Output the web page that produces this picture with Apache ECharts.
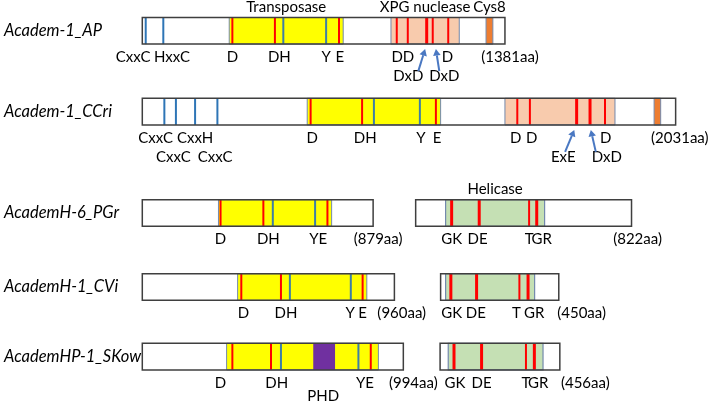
<!DOCTYPE html>
<html><head><meta charset="utf-8">
<script src="https://cdn.jsdelivr.net/npm/echarts@6/dist/echarts.min.js"></script>
<style>html,body{margin:0;padding:0;background:#fff}#c{width:709px;height:401px}</style>
</head><body><div id="c"></div>
<script>
// ---- data (amino-acid positions) ----
const rowNames = ['Academ-1_AP','Academ-1_CCri','AcademH-6_PGr','AcademH-1_CVi','AcademHP-1_SKow'];
const proteinLength = [1381, 2031, 879, 960, 994];
const transposase = [[331,765],[628,1136],[290,721],[363,855],[321,899]];
const xpgNuclease = [[947,1207],[1381,1800],null,null,null];
const cys8 = [[1309,1335],[1949,1974],null,null,null];
const phd = [null,null,null,null,[651,734]];
const zincMotifs = [[13,80],[84,128,201,286],[],[],[]];
const tealMotifs = [[537,700],[882,1057],[497,658],[562,794],[528,823]];
const redMotifs = [[343,505,749,969,1011,1083,1106,1165],[641,837,1118,1428,1476,1654,1705,1762],[298,461,705],[377,528,839],[343,490,870]];
const thickRed = [[1083],[1654,1705],[],[],[]];
// [text, position, line]
const motifLabels = [
  [['CxxC',-35,1],['HxxC',113,1],['D',343,1],['DH',522,1],['Y',700,1],['E',752,1],['D',971,1],['D',1014,1],['D',1162,1],['(1381aa)',1400,1],['DxD',1013,2],['DxD',1150,2]],
  [['CxxC',51,1],['CxxH',201,1],['D',647,1],['DH',849,1],['Y',1061,1],['E',1123,1],['D',1422,1],['D',1483,1],['D',1765,1],['(2031aa)',2047,1],['CxxC',118,2],['CxxC',277,2],['ExE',1603,2],['DxD',1769,2]],
  [['D',298,1],['DH',480,1],['YE',670,1],['(879aa)',898,1]],
  [['D',385,1],['DH',547,1],['Y',792,1],['E',839,1],['(960aa)',988,1]],
  [['D',298,1],['DH',512,1],['YE',848,1],['(994aa)',1032,1],['PHD',689,1.67]]
];
// [tip, tail]
const arrows = [[[1077,1051],[1118,1131]],[[1645,1610],[1708,1727]],[],[],[]];
const helicaseLength = [null,null,822,450,456];
const helicaseDomain = [null,null,[114,491],[19,358],[31,392]];
const helicaseRed = [null,null,[137,242,432,461],[39,137,300,333],[53,158,327,359]];
const helicaseThin = [null,null,[432],[300],[327]];
const helicaseLabels = [null,null,
  [['GK',137],['DE',236],['T',432],['GR',480],['(822aa)',845]],
  [['GK',42],['DE',134],['T',289],['GR',356],['(450aa)',537]],
  [['GK',57],['DE',158],['T',327],['GR',374],['(456aa)',553]]
];
const domainTitles = [['Transposase',0,'transposase'],['XPG nuclease',0,'xpg'],['Cys8',0,'cys8'],['Helicase',2,'helicase']];

// ---- layout ----
const helicaseStart = [null,null,1041,1136,1134];
const rowTop = [17.5, 98.3, 199.7, 273.7, 343.3];
const boxH = 26.6;
const axisMax = 2100;
const gridLeft = 142.3;
const pxPerAa = 0.2626;
const gridRight = 709 - gridLeft - axisMax * pxPerAa;

const C = {
  box:'#3f3f3f', domBorder:'#7389ad', yellow:'#ffff00', xpg:'#f8cbad', green:'#c5e0b4',
  cys:'#ed7d31', phd:'#7030a0', red:'#ff0000', blue:'#2e75b6', teal:'#3d7fa6', arrow:'#4a78c2'
};
const FONT = '15px Lato';

function rowSeries(i) {
  return {
    type:'custom', xAxisIndex:i, yAxisIndex:i, data:[[0,0]], clip:false, silent:true,
    renderItem(params, api) {
      const ch = [];
      const h = api.size([0,1])[1];
      const cy = api.coord([0,0])[1];
      const top = cy - h/2, bottom = cy + h/2;
      const X = v => api.coord([v,0])[0];
      const rect = (a,b,fill,stroke,lw) => ch.push({type:'rect', shape:{x:X(a), y:top, width:X(b)-X(a), height:h},
        style:{fill:fill, stroke:stroke||null, lineWidth:lw||0}});
      const vline = (p,color,w) => ch.push({type:'line', shape:{x1:X(p), y1:top, x2:X(p), y2:bottom},
        style:{stroke:color, lineWidth:w}});
      const text = (t,p,y) => ch.push({type:'text', x:X(p), y:y,
        style:{text:t, fill:'#000', font:FONT, align:'center', verticalAlign:'middle'}});
      const lineY = l => bottom + 13 + (l-1)*19.5;
      const domains = {};
      // main protein
      rect(0, proteinLength[i], '#fff');
      domains.transposase = transposase[i];
      rect(transposase[i][0], transposase[i][1], C.yellow, C.domBorder, 1);
      if (xpgNuclease[i]) { domains.xpg = xpgNuclease[i]; rect(xpgNuclease[i][0], xpgNuclease[i][1], C.xpg, C.domBorder, 1); }
      if (cys8[i]) { domains.cys8 = cys8[i]; rect(cys8[i][0], cys8[i][1], C.cys, C.domBorder, 1); }
      if (phd[i]) rect(phd[i][0], phd[i][1], C.phd);
      zincMotifs[i].forEach(p => vline(p, C.blue, 2));
      tealMotifs[i].forEach(p => vline(p, C.teal, 2));
      redMotifs[i].forEach(p => vline(p, C.red, thickRed[i].includes(p) ? 3 : 2));
      ch.push({type:'rect', shape:{x:X(0), y:top, width:X(proteinLength[i])-X(0), height:h},
        style:{fill:null, stroke:C.box, lineWidth:1.5}});
      motifLabels[i].forEach(([t,p,l]) => text(t, p, lineY(l)));
      arrows[i].forEach(([tip, tail]) => {
        const x1 = X(tail), y1 = bottom + 27, x2 = X(tip), y2 = bottom + 5;
        const dx = x2-x1, dy = y2-y1, L = Math.hypot(dx,dy), ux = dx/L, uy = dy/L;
        const hl = 6.5, hw = 3.8;
        const bx = x2 - ux*hl, by = y2 - uy*hl;
        ch.push({type:'line', shape:{x1, y1, x2:bx, y2:by}, style:{stroke:C.arrow, lineWidth:2}});
        ch.push({type:'polygon', shape:{points:[[x2,y2],[bx - uy*hw, by + ux*hw],[bx + uy*hw, by - ux*hw]]}, style:{fill:C.arrow}});
      });
      // helicase protein
      if (helicaseLength[i]) {
        const o = helicaseStart[i];
        rect(o, o + helicaseLength[i], '#fff');
        const d = helicaseDomain[i];
        domains.helicase = [o + d[0], o + d[1]];
        rect(o + d[0], o + d[1], C.green, C.domBorder, 1.2);
        helicaseRed[i].forEach(p => vline(o + p, C.red, helicaseThin[i].includes(p) ? 2 : 3));
        ch.push({type:'rect', shape:{x:X(o), y:top, width:X(o+helicaseLength[i])-X(o), height:h},
          style:{fill:null, stroke:C.box, lineWidth:1.5}});
        helicaseLabels[i].forEach(([t,p]) => text(t, o + p, lineY(1)));
      }
      domainTitles.filter(d => d[1] === i).forEach(([t,, key]) => {
        const r = domains[key];
        text(t, (r[0]+r[1])/2, top - 10.5);
      });
      return {type:'group', children:ch};
    }
  };
}

const grids = [], xAxes = [], yAxes = [], series = [];
rowNames.forEach((name, i) => {
  grids.push({left:gridLeft, right:gridRight, top:rowTop[i], height:boxH});
  xAxes.push({type:'value', gridIndex:i, min:0, max:axisMax, show:false});
  yAxes.push({type:'category', gridIndex:i, data:[name], axisLine:{show:false}, axisTick:{show:false},
    axisLabel:{align:'left', margin:gridLeft-4, fontStyle:'italic', fontFamily:'Lato', fontSize:16.5, color:'#000'}});
  series.push(rowSeries(i));
});

const chart = echarts.init(document.getElementById('c'), null, {renderer:'canvas'});
chart.setOption({animation:false, backgroundColor:'#fff', grid:grids, xAxis:xAxes, yAxis:yAxes, series:series});
</script>
</body></html>
